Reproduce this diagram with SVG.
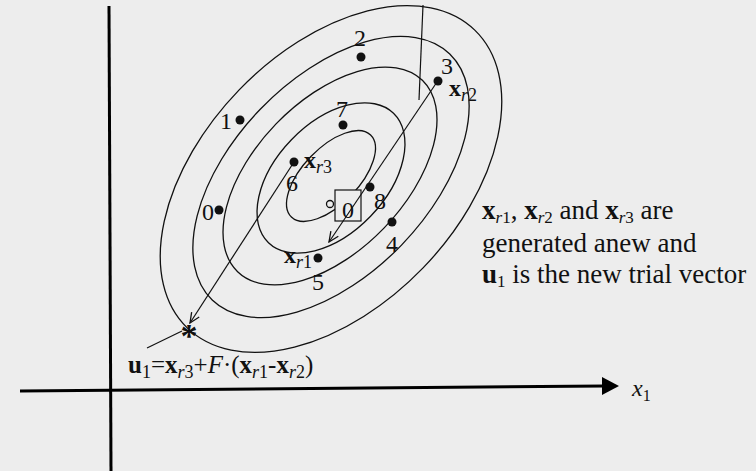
<svg xmlns="http://www.w3.org/2000/svg" width="756" height="471" viewBox="0 0 756 471">
<style>
.c{fill:none;stroke:#111;stroke-width:1.3}
.d{fill:#111}
.t{font-family:"Liberation Serif","Times New Roman",serif;fill:#111}
.n{font-size:24px}
.b{font-weight:bold}
.i{font-style:italic}
.ln{stroke:#111;stroke-width:1.2;fill:none}
.ax{stroke:#000;stroke-width:3;fill:none}
</style>
<defs>
<marker id="v" viewBox="0 0 12 12" refX="11" refY="6" markerWidth="12" markerHeight="12" markerUnits="userSpaceOnUse" orient="auto"><path d="M1,1.5 L11,6 L1,10.5" fill="none" stroke="#111" stroke-width="1.3"/></marker>
</defs>
<rect x="0" y="0" width="756" height="471" fill="#ededed"/>
<g id="axes">
<line class="ax" x1="109" y1="6" x2="111" y2="471"/>
<line class="ax" x1="20" y1="391" x2="604" y2="386"/>
<path d="M602,377 L619,386 L602,395 Z" fill="#000"/>
<text class="t i" x="632" y="396" font-size="24">x<tspan font-style="normal" font-size="16" dy="5">1</tspan></text>
</g>
<g id="contours">
<ellipse class="c" cx="331" cy="179" rx="207" ry="128" transform="rotate(-46 331 179)"/>
<ellipse class="c" cx="331" cy="177" rx="171" ry="98" transform="rotate(-46 331 177)"/>
<ellipse class="c" cx="330" cy="176" rx="133" ry="75" transform="rotate(-46 330 176)"/>
<ellipse class="c" cx="331" cy="178" rx="90" ry="55" transform="rotate(-46 331 178)"/>
<ellipse class="c" cx="331" cy="176" rx="57" ry="28" transform="rotate(-46 331 176)"/>
</g>
<g id="optimum">
<rect x="335" y="190" width="26" height="31" fill="#ededed" stroke="#111" stroke-width="1.2"/>
<text class="t n" x="348" y="218" text-anchor="middle">0</text>
<circle cx="330" cy="204" r="3.5" fill="#ededed" stroke="#111" stroke-width="1.3"/>
</g>
<g id="connectors">
<line class="ln" x1="423" y1="5" x2="419" y2="100"/>
<line class="ln" x1="437" y1="82" x2="329" y2="242" marker-end="url(#v)"/>
<line class="ln" x1="294" y1="162" x2="190" y2="323" marker-end="url(#v)"/>
<line class="ln" x1="147" y1="348" x2="182" y2="331"/>
</g>
<g id="p0"><circle class="d" cx="219" cy="210" r="4.5"/><text class="t n" x="202" y="220">0</text></g>
<g id="p1"><circle class="d" cx="240" cy="120" r="4.5"/><text class="t n" x="220" y="129">1</text></g>
<g id="p2"><circle class="d" cx="361" cy="57" r="4.5"/><text class="t n" x="354" y="46">2</text></g>
<g id="p3"><circle class="d" cx="438" cy="81" r="4.5"/><text class="t n" x="441" y="74">3</text><text class="t n" x="449" y="96"><tspan class="b">x</tspan><tspan class="i" font-size="18" dy="5">r</tspan><tspan font-size="18">2</tspan></text></g>
<g id="p4"><circle class="d" cx="392" cy="222" r="4.5"/><text class="t n" x="386" y="252">4</text></g>
<g id="p5"><circle class="d" cx="318" cy="258" r="4.5"/><text class="t n" x="312" y="290">5</text><text class="t n" x="284" y="263"><tspan class="b">x</tspan><tspan class="i" font-size="18" dy="5">r</tspan><tspan font-size="18">1</tspan></text></g>
<g id="p6"><circle class="d" cx="294" cy="162" r="4.5"/><text class="t n" x="286" y="191">6</text><text class="t n" x="304" y="168"><tspan class="b">x</tspan><tspan class="i" font-size="18" dy="5">r</tspan><tspan font-size="18">3</tspan></text></g>
<g id="p7"><circle class="d" cx="343" cy="125" r="4.5"/><text class="t n" x="336" y="117">7</text></g>
<g id="p8"><circle class="d" cx="370" cy="187" r="4.5"/><text class="t n" x="374" y="209">8</text></g>
<g id="u1"><text class="t b" x="189" y="347" font-size="34" text-anchor="middle">*</text></g>
<g id="formula"><text class="t" font-size="25" x="128" y="373"><tspan class="b">u</tspan><tspan font-size="18" dy="5">1</tspan><tspan dy="-5">=</tspan><tspan class="b">x</tspan><tspan class="i" font-size="18" dy="5">r</tspan><tspan font-size="18">3</tspan><tspan dy="-5">+</tspan><tspan class="i">F</tspan>·(<tspan class="b">x</tspan><tspan class="i" font-size="18" dy="5">r</tspan><tspan font-size="18">1</tspan><tspan dy="-5">-</tspan><tspan class="b">x</tspan><tspan class="i" font-size="18" dy="5">r</tspan><tspan font-size="18">2</tspan><tspan dy="-5">)</tspan></text></g>
<g id="note" class="t" font-size="27">
<text x="482" y="219"><tspan class="b">x</tspan><tspan class="i" font-size="17" dy="4">r</tspan><tspan font-size="17">1</tspan><tspan dy="-4">, </tspan><tspan class="b">x</tspan><tspan class="i" font-size="17" dy="4">r</tspan><tspan font-size="17">2</tspan><tspan dy="-4"> and </tspan><tspan class="b">x</tspan><tspan class="i" font-size="17" dy="4">r</tspan><tspan font-size="17">3</tspan><tspan dy="-4"> are</tspan></text>
<text x="482" y="252">generated anew and</text>
<text x="482" y="283"><tspan class="b">u</tspan><tspan font-size="17" dy="4">1</tspan><tspan dy="-4"> is the new trial vector</tspan></text>
</g>
</svg>
